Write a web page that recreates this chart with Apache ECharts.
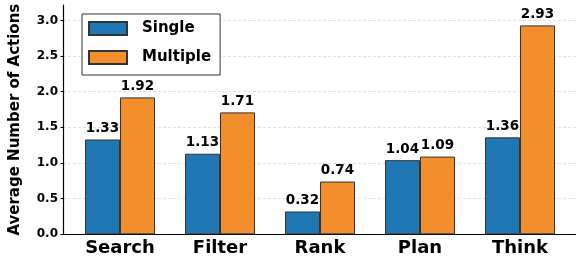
<!DOCTYPE html>
<html>
<head>
<meta charset="utf-8">
<script src="https://cdn.jsdelivr.net/npm/echarts@6/dist/echarts.min.js"></script>
<style>
  html, body { margin: 0; padding: 0; background: #fff; }
  #chart { width: 576px; height: 262px; }
</style>
</head>
<body>
<div id="chart"></div>
<script>
const categories = ['Search', 'Filter', 'Rank', 'Plan', 'Think'];
const singleVals = [1.33, 1.13, 0.32, 1.04, 1.36];
const multipleVals = [1.92, 1.71, 0.74, 1.09, 2.93];
const yMax = 3.216;

const FONT = 'DejaVu Sans';
const blue = '#1f77b4';
const orange = '#f28e2b';

const chart = echarts.init(document.getElementById('chart'));

const barLabel = {
  show: true,
  position: 'top',
  distance: 4,
  color: '#000',
  fontFamily: FONT,
  fontWeight: 'bold',
  fontSize: 13.5,
  formatter: p => p.value.toFixed(2)
};

const option = {
  animation: false,
  textStyle: { fontFamily: FONT },
  grid: [
    // bars
    { left: 70, width: 500, top: 5, height: 229.3 },
    // frame: left spine, bottom spine, y ticks, gridlines
    { left: 62, right: 0, top: 5, height: 229.3 }
  ],
  legend: {
    left: 82,
    top: 14,
    orient: 'vertical',
    icon: 'rect',
    itemWidth: 38,
    itemHeight: 13,
    itemGap: 14,
    padding: [7, 9, 10, 6],
    borderColor: '#333',
    borderWidth: 1,
    backgroundColor: '#fff',
    textStyle: {
      color: '#000',
      fontFamily: FONT,
      fontWeight: 'bold',
      fontSize: 15,
      padding: [0, 0, 0, 10]
    },
    data: ['Single', 'Multiple']
  },
  xAxis: [
    {
      type: 'category',
      gridIndex: 0,
      data: categories,
      axisLine: { show: false },
      axisTick: { show: false },
      axisLabel: {
        color: '#000',
        fontFamily: FONT,
        fontWeight: 'bold',
        fontSize: 18,
        margin: 5
      }
    },
    {
      type: 'value',
      gridIndex: 1,
      min: 0, max: 1,
      axisLine: { show: true, lineStyle: { color: '#000', width: 1.2 } },
      axisTick: { show: false },
      axisLabel: { show: false },
      splitLine: { show: false }
    }
  ],
  yAxis: [
    {
      type: 'value',
      gridIndex: 0,
      min: 0, max: yMax,
      show: false
    },
    {
      type: 'value',
      gridIndex: 1,
      min: 0, max: yMax, interval: 0.5,
      name: 'Average Number of Actions',
      nameLocation: 'middle',
      nameGap: 40,
      nameTextStyle: {
        color: '#000',
        fontFamily: FONT,
        fontWeight: 'bold',
        fontSize: 15
      },
      axisLine: { show: true, lineStyle: { color: '#000', width: 1.2 } },
      axisTick: { show: true, length: 2.5, lineStyle: { color: '#000' } },
      axisLabel: {
        color: '#000',
        fontFamily: FONT,
        fontWeight: 'bold',
        fontSize: 12,
        margin: 5,
        showMaxLabel: false,
        formatter: v => (Math.abs(v * 2 - Math.round(v * 2)) < 1e-6 ? v.toFixed(1) : '')
      },
      splitLine: {
        show: true,
        showMaxLine: false,
        lineStyle: { color: '#d8d8d8', type: [3, 2], width: 0.8 }
      }
    }
  ],
  series: [
    {
      name: 'Single',
      type: 'bar',
      xAxisIndex: 0,
      yAxisIndex: 0,
      data: singleVals,
      barWidth: 35,
      barGap: '0%',
      itemStyle: { color: blue, borderColor: '#333', borderWidth: 1 },
      label: barLabel
    },
    {
      name: 'Multiple',
      type: 'bar',
      xAxisIndex: 0,
      yAxisIndex: 0,
      data: multipleVals,
      barWidth: 35,
      barGap: '0%',
      itemStyle: { color: orange, borderColor: '#333', borderWidth: 1 },
      label: barLabel
    }
  ]
};

chart.setOption(option);
</script>
</body>
</html>
